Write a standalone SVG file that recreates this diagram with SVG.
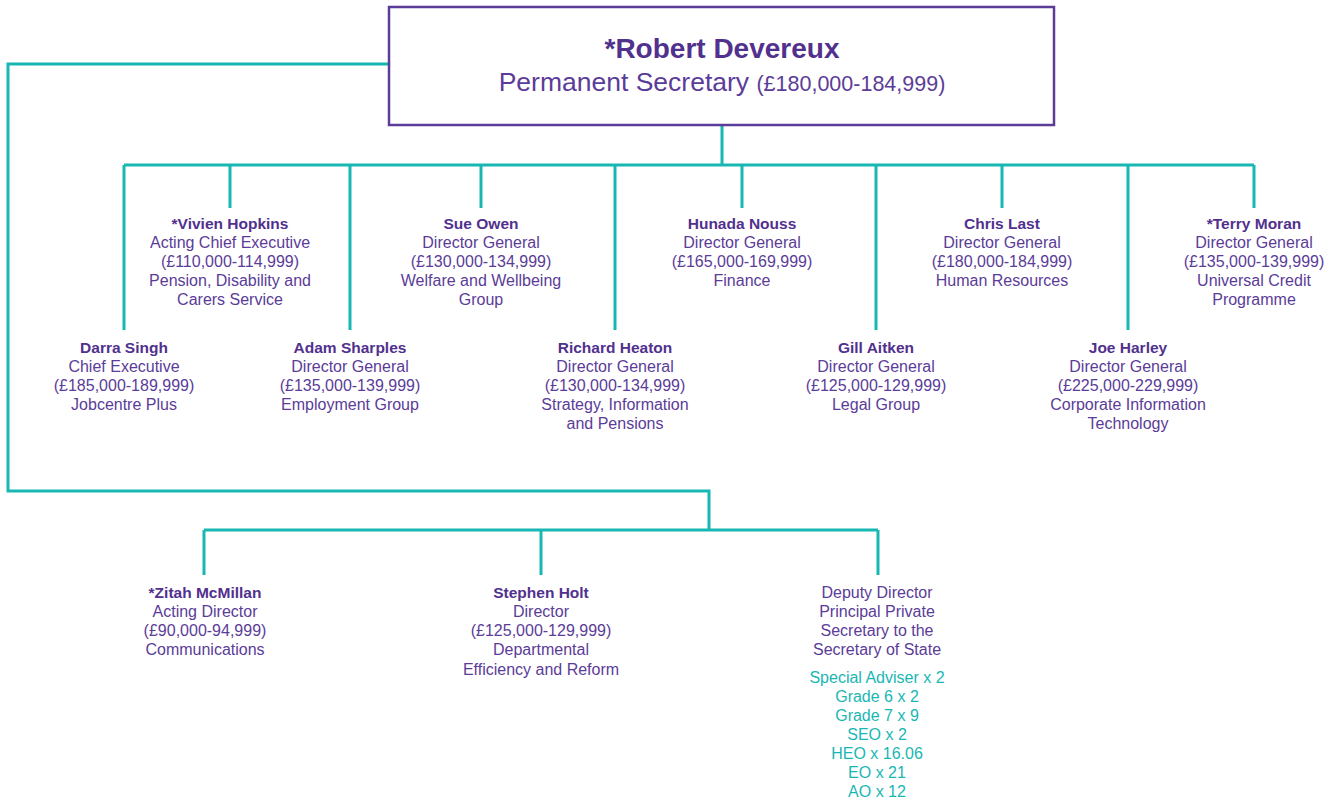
<svg xmlns="http://www.w3.org/2000/svg" width="1334" height="803" viewBox="0 0 1334 803">
<style>
.c{fill:none;stroke:#19b7b3;stroke-width:3}
text{font-family:"Liberation Sans",Arial,sans-serif;text-anchor:middle;fill:#5b3c98;font-size:16px}
.n{font-weight:bold;font-size:15.5px;fill:#51308e}
.t{fill:#19b7b3}
</style>
<rect width="1334" height="803" fill="#fff"/>
<g id="connectors">
<path class="c" d="M722 125V165M124 165H1254M124 165V330M230 165V208M350 165V330M481 165V208M615 165V330M742 165V208M876 165V330M1002 165V208M1128 165V330M1254 165V208"/>
<path class="c" d="M389 64H8V491H709V530M204 530H878M204 530V575M541 530V575M878 530V575"/>
</g>
<g id="robert">
<rect x="389" y="7" width="665" height="118" fill="#fff" stroke="#5b3c98" stroke-width="2.5"/>
<text x="722" y="58" style="font-size:28px;font-weight:bold;fill:#51308e">*Robert Devereux</text>
<text x="722" y="91" style="font-size:26.5px">Permanent Secretary <tspan style="font-size:21.5px">(£180,000-184,999)</tspan></text>
</g>
<g transform="translate(0,1)">
<g id="vivien">
<text x="230" y="228" class="n">*Vivien Hopkins</text>
<text x="230" y="247">Acting Chief Executive</text>
<text x="230" y="266">(£110,000-114,999)</text>
<text x="230" y="285">Pension, Disability and</text>
<text x="230" y="304">Carers Service</text>
</g>
<g id="darra">
<text x="124" y="352" class="n">Darra Singh</text>
<text x="124" y="371">Chief Executive</text>
<text x="124" y="390">(£185,000-189,999)</text>
<text x="124" y="409">Jobcentre Plus</text>
</g>
<g id="adam">
<text x="350" y="352" class="n">Adam Sharples</text>
<text x="350" y="371">Director General</text>
<text x="350" y="390">(£135,000-139,999)</text>
<text x="350" y="409">Employment Group</text>
</g>
<g id="sue">
<text x="481" y="228" class="n">Sue Owen</text>
<text x="481" y="247">Director General</text>
<text x="481" y="266">(£130,000-134,999)</text>
<text x="481" y="285">Welfare and Wellbeing</text>
<text x="481" y="304">Group</text>
</g>
<g id="richard">
<text x="615" y="352" class="n">Richard Heaton</text>
<text x="615" y="371">Director General</text>
<text x="615" y="390">(£130,000-134,999)</text>
<text x="615" y="409">Strategy, Information</text>
<text x="615" y="428">and Pensions</text>
</g>
<g id="hunada">
<text x="742" y="228" class="n">Hunada Nouss</text>
<text x="742" y="247">Director General</text>
<text x="742" y="266">(£165,000-169,999)</text>
<text x="742" y="285">Finance</text>
</g>
<g id="gill">
<text x="876" y="352" class="n">Gill Aitken</text>
<text x="876" y="371">Director General</text>
<text x="876" y="390">(£125,000-129,999)</text>
<text x="876" y="409">Legal Group</text>
</g>
<g id="chris">
<text x="1002" y="228" class="n">Chris Last</text>
<text x="1002" y="247">Director General</text>
<text x="1002" y="266">(£180,000-184,999)</text>
<text x="1002" y="285">Human Resources</text>
</g>
<g id="joe">
<text x="1128" y="352" class="n">Joe Harley</text>
<text x="1128" y="371">Director General</text>
<text x="1128" y="390">(£225,000-229,999)</text>
<text x="1128" y="409">Corporate Information</text>
<text x="1128" y="428">Technology</text>
</g>
<g id="terry">
<text x="1254" y="228" class="n">*Terry Moran</text>
<text x="1254" y="247">Director General</text>
<text x="1254" y="266">(£135,000-139,999)</text>
<text x="1254" y="285">Universal Credit</text>
<text x="1254" y="304">Programme</text>
</g>
<g id="zitah">
<text x="205" y="597" class="n">*Zitah McMillan</text>
<text x="205" y="616">Acting Director</text>
<text x="205" y="635">(£90,000-94,999)</text>
<text x="205" y="654">Communications</text>
</g>
<g id="stephen">
<text x="541" y="597" class="n">Stephen Holt</text>
<text x="541" y="616">Director</text>
<text x="541" y="635">(£125,000-129,999)</text>
<text x="541" y="654">Departmental</text>
<text x="541" y="674">Efficiency and Reform</text>
</g>
<g id="deputy">
<text x="877" y="597">Deputy Director</text>
<text x="877" y="616">Principal Private</text>
<text x="877" y="635">Secretary to the</text>
<text x="877" y="654">Secretary of State</text>
<text x="877" y="682" class="t">Special Adviser x 2</text>
<text x="877" y="701" class="t">Grade 6 x 2</text>
<text x="877" y="720" class="t">Grade 7 x 9</text>
<text x="877" y="739" class="t">SEO x 2</text>
<text x="877" y="758" class="t">HEO x 16.06</text>
<text x="877" y="777" class="t">EO x 21</text>
<text x="877" y="796" class="t">AO x 12</text>
</g>
</g>
</svg>
